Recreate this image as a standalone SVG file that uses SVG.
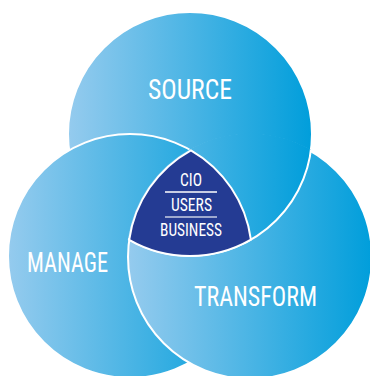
<svg xmlns="http://www.w3.org/2000/svg" width="370" height="376" viewBox="0 0 370 376">
<defs>
<linearGradient id="g" x1="0" y1="0" x2="1" y2="0">
<stop offset="0" stop-color="#95cbee"/>
<stop offset="1" stop-color="#009edb"/>
</linearGradient>
<clipPath id="clipR"><circle cx="250" cy="257" r="123.5"/></clipPath>
</defs>
<style>
.c{fill:url(#g);stroke:#fff;stroke-width:2}
.lbl{fill:#fff;font-family:"Liberation Sans Narrow","Roboto Condensed","DejaVu Sans Condensed","Liberation Sans",sans-serif;font-size:28px;text-anchor:start}
.sm{fill:#fff;font-family:"Liberation Sans Narrow","Roboto Condensed","DejaVu Sans Condensed","Liberation Sans",sans-serif;font-size:18px}
.sep{stroke:#fff;stroke-width:1.3}
</style>
<g id="source">
<circle class="c" cx="190" cy="134" r="122"/>
</g>
<g id="manage">
<circle class="c" cx="130" cy="256" r="122"/>
</g>
<g id="transform">
<circle class="c" cx="250" cy="257" r="122"/>
</g>
<g id="source-over" clip-path="url(#clipR)">
<circle class="c" cx="190" cy="134" r="122"/>
</g>
<g id="center">
<path d="M190.9,150.3 A122,122 0 0 1 250.9,239.7 A122,122 0 0 1 129.2,239.8 A122,122 0 0 1 190.9,150.3 Z" fill="#243b93" stroke="#fff" stroke-width="2"/>
<text class="sm" x="180" y="186" textLength="22" lengthAdjust="spacingAndGlyphs">CIO</text>
<text class="sm" x="171" y="211" textLength="41" lengthAdjust="spacingAndGlyphs">USERS</text>
<text class="sm" x="160" y="236" textLength="62" lengthAdjust="spacingAndGlyphs">BUSINESS</text>
</g>
<g id="connectors">
<line class="sep" x1="165" y1="192" x2="217" y2="192"/>
<line class="sep" x1="165" y1="217" x2="217" y2="217" stroke-opacity="0.75"/>
</g>
<g id="labels">
<text class="lbl" x="148" y="99" textLength="84" lengthAdjust="spacingAndGlyphs">SOURCE</text>
<text class="lbl" x="27" y="272" textLength="81" lengthAdjust="spacingAndGlyphs">MANAGE</text>
<text class="lbl" x="194" y="306" textLength="123" lengthAdjust="spacingAndGlyphs">TRANSFORM</text>
</g>
</svg>
